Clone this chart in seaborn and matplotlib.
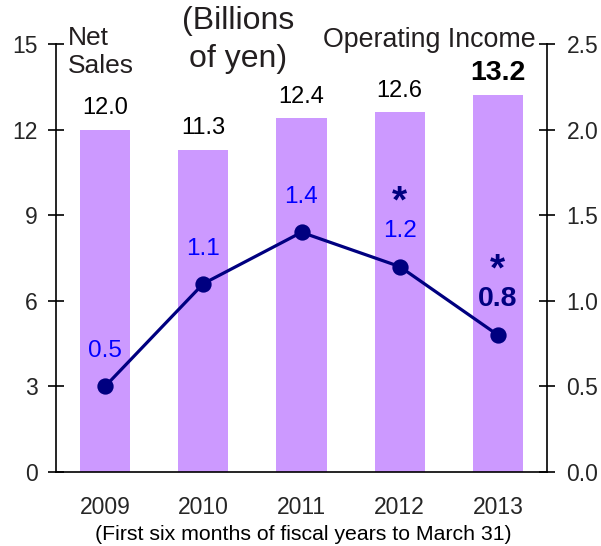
import matplotlib
matplotlib.use("Agg")
import matplotlib.pyplot as plt
import seaborn as sns
import pandas as pd

# Half-year results (billions of yen)
years = ["2009", "2010", "2011", "2012", "2013"]
net_sales = [12.0, 11.3, 12.4, 12.6, 13.2]
operating_income = [0.5, 1.1, 1.4, 1.2, 0.8]
income_marks = ["", "", "", "*", "*"]
left_ticks = [0, 3, 6, 9, 12, 15]
right_ticks = [0.0, 0.5, 1.0, 1.5, 2.0, 2.5]

sns.set_style("white")
plt.rcParams["font.family"] = ["Liberation Sans", "DejaVu Sans"]

BAR = "#CC99FF"
NAVY = "#000080"
BLUE = "#0000FF"

df = pd.DataFrame({"year": years, "sales": net_sales, "income": operating_income})

W, H = 601, 546
fig = plt.figure(figsize=(W / 100, H / 100), dpi=100)
ax = fig.add_axes([56 / W, 1 - 472 / H, (547 - 56) / W, (472 - 44) / H])

sns.barplot(data=df, x="year", y="sales", color=BAR, saturation=1,
            width=0.51, linewidth=0, ax=ax, zorder=2)
ax.set_ylim(0, 15)
ax.set_yticks(left_ticks)
ax.set_yticklabels([str(t) for t in left_ticks])

ax2 = ax.twinx()
sns.pointplot(data=df, x="year", y="income", color=NAVY, markers="o",
              markersize=10, linewidth=2.3, ax=ax2, zorder=3)
ax2.set_ylim(0, 2.5)
ax2.set_yticks(right_ticks)
ax2.set_yticklabels([f"{t:.1f}" for t in right_ticks])

for a in (ax, ax2):
    a.set_xlim(-0.5, 4.5)
    a.set_xlabel("")
    a.set_ylabel("")
    a.grid(False)
    a.spines["top"].set_visible(False)
    for s in a.spines.values():
        s.set_color("black")
        s.set_linewidth(1.2)

ax.spines["right"].set_visible(False)
ax2.spines["left"].set_visible(False)
ax2.spines["bottom"].set_visible(False)

# Category labels at bar centres, tick marks between bars
ax.set_xticks(range(len(years)))
ax.set_xticklabels(years)
ax.set_xticks([i - 0.5 for i in range(len(years) + 1)], minor=True)
ax.tick_params(axis="x", which="major", length=0, pad=17, labelsize=16.5)
ax.tick_params(axis="x", which="minor", direction="inout", length=12,
               width=1.2, color="black")
ax.tick_params(axis="y", direction="inout", length=12, width=1.2,
               color="black", pad=7, labelsize=16.5)
ax2.tick_params(axis="y", direction="inout", length=12, width=1.2,
                color="black", pad=8, labelsize=16.5)
ax2.tick_params(axis="x", length=0, labelbottom=False)

# Value labels
for i, v in enumerate(net_sales):
    last = i == len(net_sales) - 1
    ax.annotate(f"{v:.1f}", (i, v), xytext=(0, 11), textcoords="offset points",
                ha="center", va="baseline", fontsize=20.5 if last else 17,
                fontweight="bold" if last else "normal", color="black")

for i, (v, m) in enumerate(zip(operating_income, income_marks)):
    last = i == len(operating_income) - 1
    ax2.annotate(f"{v:.1f}", (i, v), xytext=(0, 21), textcoords="offset points",
                 ha="center", va="baseline", fontsize=20.5 if last else 17.5,
                 fontweight="bold" if last else "normal",
                 color=NAVY if last else BLUE, zorder=4)
    if m:
        ax2.annotate(m, (i, v), xytext=(0, 39), textcoords="offset points",
                     ha="center", va="baseline", fontsize=28,
                     fontweight="bold", color=NAVY, zorder=4)

# Headings
fig.text(68 / W, 1 - 26 / H, "Net\nSales", ha="left", va="top",
         fontsize=19, linespacing=1.2, color="#231f20")
fig.text(238 / W, 1 - 6 / H, "(Billions\nof yen)", ha="center", va="top",
         fontsize=23, linespacing=1.35, multialignment="center", color="#231f20")
fig.text(536 / W, 1 - 47 / H, "Operating Income", ha="right", va="baseline",
         fontsize=19.3, color="#231f20")
fig.text(303 / W, 1 - 540 / H, "(First six months of fiscal years to March 31)",
         ha="center", va="baseline", fontsize=15.3, color="black")

fig.savefig("out.png", dpi=100)
